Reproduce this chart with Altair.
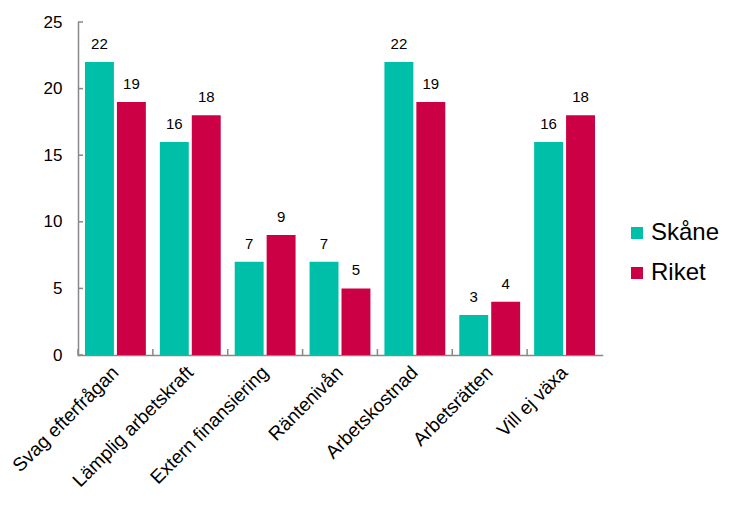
import altair as alt
import pandas as pd

categories = ["Svag efterfrågan", "Lämplig arbetskraft", "Extern finansiering",
              "Räntenivån", "Arbetskostnad", "Arbetsrätten", "Vill ej växa"]
skane = [22, 16, 7, 7, 22, 3, 16]
riket = [19, 18, 9, 5, 19, 4, 18]
series = ["Skåne", "Riket"]
y_ticks = [0, 5, 10, 15, 20, 25]

rows = []
for c, s, r in zip(categories, skane, riket):
    rows.append({"cat": c, "serie": "Skåne", "val": s})
    rows.append({"cat": c, "serie": "Riket", "val": r})
df = pd.DataFrame(rows)
df_cat = pd.DataFrame({"cat": categories})
df_yt = pd.DataFrame({"v": y_ticks})

FONT = "Liberation Sans"
W, H = 524, 333

xscale = alt.Scale(domain=categories, paddingInner=0, paddingOuter=0)
yscale = alt.Scale(domain=[0, 25], nice=False)
xoff_scale = alt.Scale(domain=series, paddingInner=0.094, paddingOuter=0.219)
color = alt.Color("serie:N", scale=alt.Scale(domain=series, range=["#00BFA9", "#CC0044"]),
                  legend=alt.Legend(title=None, orient="none", legendX=547, legendY=199,
                                    symbolType="square", symbolSize=144, symbolStrokeWidth=0,
                                    labelFontSize=24, labelFont=FONT, labelColor="#000",
                                    rowPadding=16, labelOffset=2))

bars = alt.Chart(df).mark_bar().encode(
    x=alt.X("cat:N", scale=xscale, sort=categories,
            axis=alt.Axis(title=None, labelAngle=-45, labelAlign="right", labelBaseline="middle",
                          labelFontSize=19, labelFont=FONT, labelColor="#000", labelPadding=14,
                          ticks=False, domainColor="#888", domainWidth=1.5, labelLimit=300)),
    xOffset=alt.XOffset("serie:N", scale=xoff_scale, sort=series),
    y=alt.Y("val:Q", scale=yscale,
            axis=alt.Axis(title=None, values=y_ticks, ticks=False, labelFontSize=17, labelFont=FONT,
                          labelColor="#000", labelPadding=16, domainColor="#888", domainWidth=1.5,
                          grid=False)),
    color=color,
)

labels = alt.Chart(df).mark_text(baseline="bottom", dy=-10, fontSize=15, font=FONT, color="#000").encode(
    x=alt.X("cat:N", scale=xscale, sort=categories),
    xOffset=alt.XOffset("serie:N", scale=xoff_scale, sort=series),
    y=alt.Y("val:Q", scale=yscale),
    text=alt.Text("val:Q"),
)

xticks = alt.Chart(df_cat).mark_rule(color="#888", strokeWidth=1.5).encode(
    x=alt.X("cat:N", scale=xscale, sort=categories, bandPosition=0),
    y=alt.value(H),
    y2=alt.value(H - 6),
)

yticks = alt.Chart(df_yt).mark_rule(color="#888", strokeWidth=1.5).encode(
    y=alt.Y("v:Q", scale=yscale),
    x=alt.value(0),
    x2=alt.value(5),
)

chart = alt.layer(bars, labels, xticks, yticks).properties(
    width=W, height=H,
    autosize=alt.AutoSizeParams(type="none"),
    padding={"left": 70, "top": 14, "right": 132, "bottom": 145},
).configure_view(stroke=None).configure_axis(domainCap="square")

chart.save("out.html", embed_options={"renderer": "svg", "actions": False})
